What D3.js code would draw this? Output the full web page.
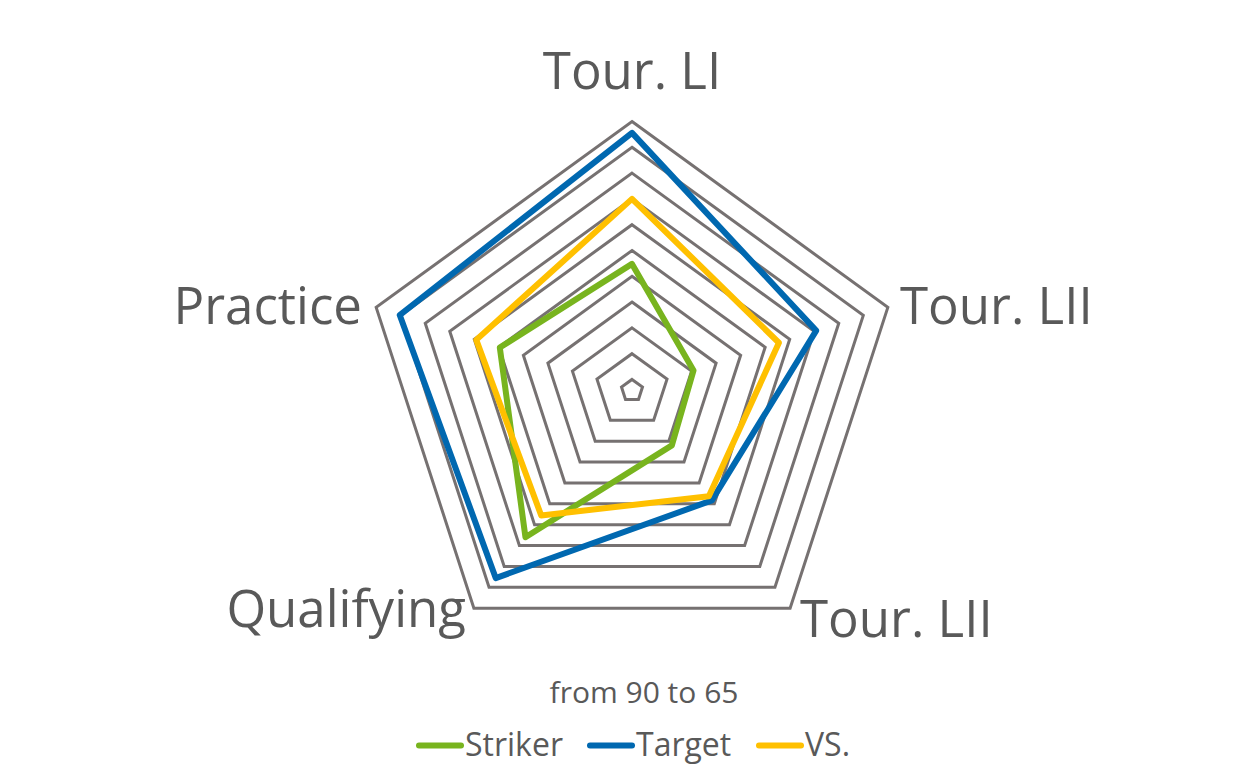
<!DOCTYPE html>
<html>
<head>
<meta charset="utf-8">
<script src="https://cdn.jsdelivr.net/npm/d3@7"></script>
<style>
  html, body { margin: 0; padding: 0; background: #ffffff; }
  svg { display: block; }
  text { font-family: "Open Sans", "Noto Sans", sans-serif; fill: #595959; }
</style>
</head>
<body>
<svg id="chart" width="1241" height="777"></svg>
<script>
// ---- data ----
const categories = ["Tour. LI", "Tour. LII", "Tour. LII", "Qualifying", "Practice"];
const seriesNames = ["Striker", "Target", "VS."];
const striker = [76.2, 70.2, 70.5, 81.5, 77.4];
const target  = [88.9, 82.7, 77.1, 86.4, 87.6];
const vs      = [82.5, 78.9, 76.6, 78.9, 79.8];
const gridTicks = [65, 67.5, 70, 72.5, 75, 77.5, 80, 82.5, 85, 87.5, 90];
const subtitle = "from 90 to 65";
const seriesColors = ["#78B41E", "#0068B0", "#FFC000"];

const series = [
  { name: seriesNames[0], values: striker, color: seriesColors[0] },
  { name: seriesNames[1], values: target,  color: seriesColors[1] },
  { name: seriesNames[2], values: vs,      color: seriesColors[2] }
];

// ---- layout ----
const svg = d3.select("#chart");
const cx = 632, cy = 390.5, R = 269;
const r = d3.scaleLinear().domain([63.93, 90]).range([0, R]);
const angle = d3.scaleLinear().domain([0, categories.length]).range([0, 2 * Math.PI]);

const g = svg.append("g").attr("transform", `translate(${cx},${cy})`);

const radial = d3.lineRadial()
  .angle((d, i) => angle(i))
  .radius(d => r(d))
  .curve(d3.curveLinearClosed);

// grid rings
g.append("g").selectAll("path")
  .data(gridTicks)
  .join("path")
  .attr("d", t => radial(categories.map(() => t)))
  .attr("fill", "none")
  .attr("stroke", "#767171")
  .attr("stroke-width", 3)
  .attr("stroke-linejoin", "miter");

// series
g.append("g").selectAll("path")
  .data(series)
  .join("path")
  .attr("d", s => radial(s.values))
  .attr("fill", "none")
  .attr("stroke", s => s.color)
  .attr("stroke-width", 6)
  .attr("stroke-linejoin", "round");

// category labels
const labelPos = [
  { x: 0, y: -302, anchor: "middle" },
  { x: 268, y: -67, anchor: "start" },
  { x: 168, y: 246, anchor: "start" },
  { x: -166, y: 236, anchor: "end" },
  { x: -270, y: -67, anchor: "end" }
];
g.append("g").selectAll("text")
  .data(categories)
  .join("text")
  .attr("x", (d, i) => labelPos[i].x)
  .attr("y", (d, i) => labelPos[i].y)
  .attr("text-anchor", (d, i) => labelPos[i].anchor)
  .attr("font-size", 51)
  .text(d => d);

// subtitle
svg.append("text")
  .attr("x", 644).attr("y", 703)
  .attr("text-anchor", "middle")
  .attr("font-size", 30)
  .text(subtitle);

// legend
const legendX = [417, 588, 757];
const leg = svg.append("g").selectAll("g")
  .data(series)
  .join("g")
  .attr("transform", (d, i) => `translate(${legendX[i]},745.5)`);
leg.append("line")
  .attr("x1", 2).attr("x2", 44).attr("y1", 0).attr("y2", 0)
  .attr("stroke", d => d.color)
  .attr("stroke-width", 6)
  .attr("stroke-linecap", "round");
leg.append("text")
  .attr("x", 48).attr("y", 10.5)
  .attr("font-size", 32)
  .text(d => d.name);
</script>
</body>
</html>
